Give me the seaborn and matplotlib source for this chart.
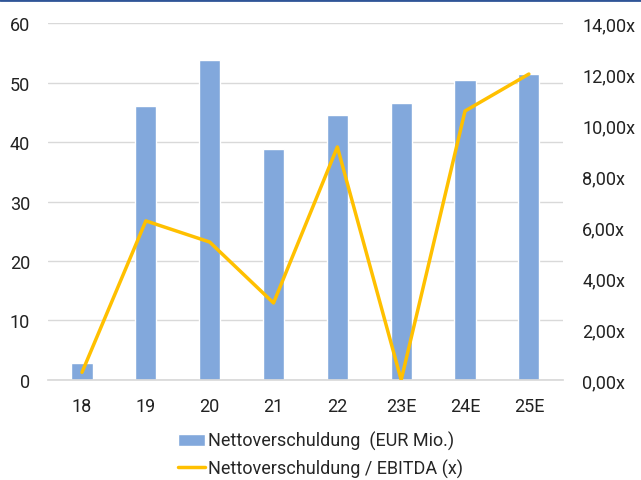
import pandas as pd
import matplotlib.pyplot as plt
import seaborn as sns
from matplotlib.lines import Line2D
from matplotlib.ticker import FuncFormatter

jahre = ['18', '19', '20', '21', '22', '23E', '24E', '25E']
nettoverschuldung = [2.8, 46.1, 53.8, 38.8, 44.6, 46.6, 50.5, 51.4]
verschuldungsgrad = [0.3, 6.24, 5.41, 3.02, 9.14, 0.0, 10.55, 12.0]

df = pd.DataFrame({'jahr': jahre, 'nv': nettoverschuldung, 'grad': verschuldungsgrad})

sns.set_theme(style="white")
plt.rcParams['font.family'] = ['Roboto', 'DejaVu Sans']

fig = plt.figure(figsize=(6.41, 4.81), dpi=100)
ax = fig.add_axes([0.075, 0.208, 0.803, 0.742])

sns.barplot(data=df, x='jahr', y='nv', color='#82A8DC', saturation=1, width=0.33, ax=ax,
            label='Nettoverschuldung  (EUR Mio.)')
if ax.get_legend() is not None:
    ax.get_legend().remove()
ax.set_ylim(0, 60)
ax.set_yticks(range(0, 61, 10))
ax.yaxis.grid(True, color='#D9D9D9', linewidth=1)
ax.set_axisbelow(True)
ax.set_xlabel('')
ax.set_ylabel('')
ax.tick_params(axis='y', labelsize=13, colors='#222222', length=0, pad=13)
ax.tick_params(axis='x', labelsize=13, colors='#222222', length=0, pad=12)
for s in ['top', 'right', 'left']:
    ax.spines[s].set_visible(False)
ax.spines['bottom'].set_color('#D9D9D9')

ax2 = ax.twinx()
ax2.plot(range(len(jahre)), df['grad'], color='#FFC000', linewidth=2.5,
         label='Nettoverschuldung / EBITDA (x)')
ax2.set_ylim(0, 14)
ax2.set_yticks(range(0, 15, 2))
ax2.yaxis.set_major_formatter(FuncFormatter(lambda v, p: f'{v:.2f}x'.replace('.', ',')))
ax2.tick_params(axis='y', labelsize=13, colors='#222222', length=0, pad=14)
for s in ax2.spines.values():
    s.set_visible(False)
ax2.grid(False)

h1, l1 = ax.get_legend_handles_labels()
h2, l2 = ax2.get_legend_handles_labels()
fig.legend(h1 + h2, l1 + l2, loc='upper center', bbox_to_anchor=(0.5, 0.12), ncol=1,
           frameon=False, fontsize=13, handlelength=1.5, handletextpad=0.2,
           labelspacing=0.45, borderpad=0)

fig.add_artist(Line2D([0, 1], [0.998, 0.998], color='#2F5597', linewidth=2,
                      transform=fig.transFigure))

plt.savefig('out.png', dpi=100)
